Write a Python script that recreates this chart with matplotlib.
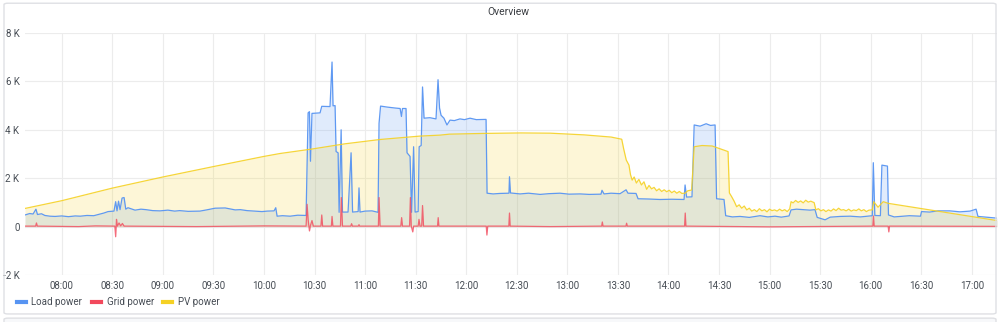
#!/usr/bin/env python3
# Grafana style "Overview" panel: load / grid / PV power over a day
import matplotlib
matplotlib.use('Agg')
import matplotlib.pyplot as plt
import matplotlib.ticker as ticker
import matplotlib.patches as mpatches
from matplotlib.lines import Line2D

plt.rcParams['font.family'] = ['Roboto', 'DejaVu Sans']

# grafana classic colors
BLUE = '#5794F2'
RED = '#F2495C'
YELLOW = '#F5D124'
TEXT = '#464c54'

# (minutes since midnight, W)
load_pts = [(458.2, 480), (461, 540), (463, 520), (464.7, 720), (465.6, 500), (468, 530), (470, 460),
            (473, 430), (476, 420), (480, 440), (484, 410), (488, 440), (491, 430), (495, 460),
            (499, 450), (502.7, 520), (505, 560), (507.5, 620), (511, 640), (512, 1030), (512.8, 650),
            (513.7, 1050), (514.6, 700), (515.8, 1180), (517, 1200), (518, 720), (519.3, 780),
            (523.5, 680), (527, 720), (530, 700), (534, 660), (538.3, 650), (543, 680), (547, 640),
            (550, 660), (555, 630), (562, 640), (566, 690), (571, 760), (577, 770), (582.9, 690),
            (586, 700), (590, 660), (594, 640), (598.8, 620), (602, 640), (606, 650), (607, 780),
            (607.8, 430), (611, 450), (615.5, 430), (620, 470), (625, 460), (625.6, 2680),
            (626.2, 4700), (627, 4750), (627.6, 2700), (628.5, 4680), (629, 4680), (633.3, 4700),
            (634.3, 4970), (639.2, 4960), (640.4, 6800), (641, 4990), (642.2, 5000), (642.8, 3100),
            (644, 3050), (644.6, 590), (645.8, 4000), (646.6, 600), (649.9, 600), (651.7, 3050),
            (652.6, 600), (655.9, 620), (656.4, 1600), (657, 600), (660, 640), (664.1, 650),
            (667.7, 590), (668.3, 4270), (669.2, 4980), (673, 4940), (677.8, 4900), (680.8, 4880),
            (681.6, 4550), (682.2, 4880), (684.3, 4880), (684.9, 3050), (686.7, 2900), (687.6, 590),
            (688.8, 3300), (689.7, 600), (691.5, 620), (692.1, 3300), (693.3, 3350), (694.1, 5770),
            (695, 4480), (698.5, 4500), (702.1, 4450), (703.3, 6070), (704.2, 4900), (705.1, 4600),
            (706.8, 4480), (708.6, 4200), (710.4, 4400), (713, 4380), (716.3, 4450), (719, 4420),
            (722.3, 4480), (726, 4420), (731.8, 4430), (732.4, 1380), (736, 1350), (740, 1370),
            (745.4, 1380), (745.7, 2060), (746.3, 1390), (752, 1350), (757, 1380), (763.9, 1330),
            (769, 1360), (775.7, 1380), (781, 1340), (787.6, 1350), (793, 1330), (800, 1340),
            (800.6, 1500), (801.8, 1350), (806, 1380), (811.3, 1360), (814.9, 1520), (816, 1380),
            (820.8, 1370), (822, 1150), (828, 1140), (835, 1120), (842, 1130), (849.3, 1120),
            (849.9, 1720), (850.8, 1220), (854, 1230), (855.3, 4200), (858.8, 4150), (862.4, 4250),
            (865, 4180), (867.7, 4200), (868.6, 1150), (873, 1120), (874, 450), (878, 400),
            (882.5, 420), (888, 380), (894.4, 450), (899, 400), (903.3, 430), (907, 390),
            (911.6, 440), (912.8, 690), (916, 720), (920, 700), (924, 680), (927, 700), (928.3, 380),
            (933, 280), (936, 390), (942, 420), (947.9, 430), (954, 400), (961, 450), (961.6, 2640),
            (962.5, 460), (965.8, 450), (966.7, 2540), (970, 2500), (970.6, 480), (974, 400),
            (977.7, 420), (983, 450), (989.6, 430), (990.2, 620), (995, 600), (1000, 650),
            (1007, 650), (1013, 610), (1019, 640), (1022.6, 720), (1023.7, 420), (1030, 380),
            (1035, 350)]

grid_pts = [(458.2, 20), (464.5, 20), (465, 150), (465.5, 20), (490, 0), (500, 30), (511.5, 20),
            (512, -420), (512.5, 300), (513, 20), (514, 150), (515, 30), (516, 130), (517, 20),
            (560, 0), (600, 30), (625, 20), (625.6, 920), (626.2, 300), (627, -180), (627.6, 50),
            (628.5, 250), (629.3, 20), (633.8, 20), (634.3, 480), (634.8, 20), (640, 20), (640.4, 420),
            (640.9, 20), (645.4, 20), (645.9, 1200), (646.6, 20), (651.5, 20), (652, 120), (652.5, 20),
            (656, 20), (656.4, 80), (656.8, 20), (667.9, 20), (668.3, 1200), (668.9, 20), (681.2, 20),
            (681.7, 370), (682.2, 20), (686.4, 20), (686.9, 1200), (687.4, 20), (688.3, -220),
            (688.8, 20), (691.5, 20), (692, 300), (692.6, 20), (693.6, 20), (694.1, 870), (694.7, 20),
            (703, 20), (703.4, 370), (703.8, 20), (731.9, 20), (732.3, -350), (732.8, 20), (745.3, 20),
            (745.7, 560), (746.1, 20), (770, 0), (800.4, 20), (800.8, 190), (801.2, 20), (814.8, 20),
            (815.2, 140), (815.6, 20), (849.6, 20), (850, 560), (850.4, 20), (900, -10), (961.3, 20),
            (961.7, 440), (962.1, 20), (970.4, 20), (970.8, -220), (971.2, 20), (1035, 10)]

pv_pts = [(458.2, 750), (480, 1070), (510, 1590), (540, 2050), (570, 2480), (600, 2900), (609.5, 3020),
          (628, 3200), (648, 3420), (669, 3600), (692.6, 3740), (704.5, 3780), (710, 3820), (730, 3850),
          (752.6, 3870), (770, 3860), (790, 3790), (806, 3700), (812.3, 3610), (813.5, 3200),
          (815, 2750), (816.6, 2540), (817.5, 2150), (818.5, 1920), (819.7, 2050), (821, 1800),
          (822.5, 1950), (824, 1720), (825.5, 1850), (827.1, 1540), (828.5, 1700), (830, 1560),
          (831.5, 1620), (833, 1480), (834.5, 1560), (836, 1450), (837.5, 1520), (839, 1440),
          (840.5, 1500), (842, 1400), (843.5, 1470), (845, 1380), (846.5, 1450), (848, 1370),
          (849.9, 1380), (851.5, 1480), (853.8, 1510), (855.3, 3300), (860, 3350), (866, 3330),
          (875.4, 3100), (876.2, 1390), (877.5, 1240), (879, 1050), (880.5, 820), (882, 900),
          (883.5, 760), (885, 850), (886.5, 690), (888, 760), (889.5, 640), (891, 700), (892.5, 620),
          (894, 740), (895.5, 650), (897, 700), (898.5, 610), (900, 720), (901.5, 660), (903, 690),
          (904.5, 640), (906, 720), (907.5, 650), (909, 700), (910.5, 620), (912, 730), (912.8, 1030),
          (914, 980), (915.5, 1080), (917, 1000), (918.5, 1060), (920, 980), (921.5, 1090),
          (923, 1010), (924.5, 1050), (926.5, 990), (927.5, 690), (929, 740), (930.5, 650), (932, 700),
          (933.5, 620), (935, 690), (936.5, 640), (938, 730), (939.5, 660), (941, 760), (942.5, 680),
          (944, 700), (945.5, 650), (947, 720), (948.5, 640), (950, 690), (951.5, 660), (953, 730),
          (954.5, 650), (956, 700), (957.5, 620), (959, 680), (961, 690), (961.8, 1030), (964.4, 800),
          (967.5, 1030), (970.5, 960), (1035, 250)]

y_ticks = [-2000, 0, 2000, 4000, 6000, 8000]
y_labels = ['-2 K', '0', '2 K', '4 K', '6 K', '8 K']
x_ticks = list(range(480, 1021, 30))


def hhmm(tick, pos):
    return '%02d:%02d' % (int(tick) // 60, int(tick) % 60)


fig = plt.figure(figsize=(10, 3.22), dpi=100)
ax = fig.add_axes([0.025, 0.146, 0.972, 0.7515])

# panel frame, like the dashboard card
fig.patches.append(mpatches.FancyBboxPatch((0.004, 0.025), 0.992, 0.965,
                   boxstyle='round,pad=0,rounding_size=0.004', transform=fig.transFigure,
                   facecolor='none', edgecolor='#dfe0e4', linewidth=1.0))
fig.patches.append(mpatches.FancyBboxPatch((0.004, -0.05), 0.992, 0.062,
                   boxstyle='round,pad=0,rounding_size=0.004', transform=fig.transFigure,
                   facecolor='#f7f8fa', edgecolor='#dfe0e4', linewidth=1.0))

# series, in grafana order (PV drawn last so its fill sits on top)
for pts, c, a in [(load_pts, BLUE, 0.95), (grid_pts, RED, 0.8), (pv_pts, YELLOW, 0.9)]:
    t = [p[0] for p in pts]
    v = [p[1] for p in pts]
    ax.fill_between(t, v, 0, color=c, alpha=0.18, linewidth=0)
    ax.plot(t, v, color=c, linewidth=0.9, alpha=a)

ax.set_xlim(458.2, 1035)
ax.set_ylim(-2000, 8000)
ax.set_yticks(y_ticks)
ax.set_yticklabels(y_labels)
ax.set_xticks(x_ticks)
ax.xaxis.set_major_formatter(ticker.FuncFormatter(hhmm))
ax.tick_params(length=0, labelsize=7, colors=TEXT, pad=4)
ax.grid(True, color='#ececec', linewidth=0.8)
ax.set_axisbelow(True)
for s in ax.spines.values():
    s.set_visible(False)

fig.text(0.508, 0.963, 'Overview', ha='center', va='center', fontsize=7.5, color='#3a3d42')

handles = [Line2D([], [], color=c, linewidth=3) for c in (BLUE, RED, YELLOW)]
fig.legend(handles, ['Load power', 'Grid power', 'PV power'], loc='center left',
           bbox_to_anchor=(0.008, 0.062), ncol=3, frameon=False, fontsize=7,
           handlelength=0.9, handletextpad=0.6, columnspacing=1.0, labelcolor=TEXT)

fig.savefig('out.png', dpi=100)
